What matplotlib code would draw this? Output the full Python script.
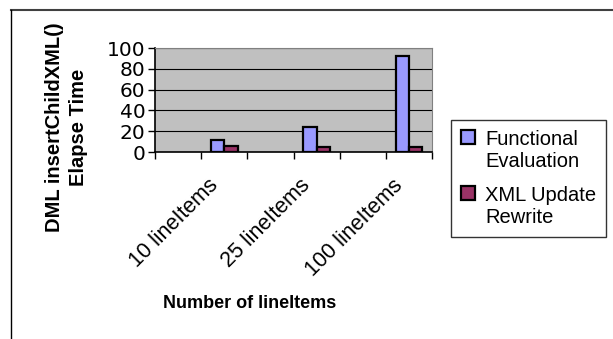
import matplotlib.pyplot as plt
import numpy as np
from matplotlib.lines import Line2D

plt.rcParams['font.family'] = ['Liberation Sans', 'DejaVu Sans']

# categories (blank ones are the empty spacer rows of the sheet)
categories = ['', '10 lineItems', '', '25 lineItems', '', '100 lineItems']
functional = [0, 12, 0, 24, 0, 92]   # Functional Evaluation
rewrite = [0, 6, 0, 5, 0, 5]         # XML Update Rewrite
yticks = [0, 20, 40, 60, 80, 100]

fig = plt.figure(figsize=(6.13, 3.39), dpi=100)
ax = fig.add_axes([0.2529, 0.5516, 0.4518, 0.3068])
ax.set_facecolor('#C0C0C0')

x = np.arange(len(categories))
w = 0.29
mask = [c != '' for c in categories]
xs = x[mask]
b1 = ax.bar(xs - w/2, np.array(functional)[mask], w, color='#9999FF', edgecolor='black', linewidth=1.6,
            label='Functional\nEvaluation', zorder=3)
b2 = ax.bar(xs + w/2, np.array(rewrite)[mask], w, color='#993366', edgecolor='black', linewidth=1.6,
            label='XML Update\nRewrite', zorder=3)

ax.set_xlim(-0.5, len(categories) - 0.5)
ax.set_ylim(0, 100)
ax.set_yticks(yticks)
ax.set_yticklabels([str(v) for v in yticks], family='DejaVu Sans', fontsize=14.5)
ax.yaxis.grid(True, color='black', linewidth=0.8)
ax.set_axisbelow(True)

# labels sit a little left of the category centre, like the rotated Excel labels
ax.set_xticks(x - 0.2)
ax.set_xticklabels(categories, rotation=45, ha='right', va='center', rotation_mode='anchor', fontsize=15.5)
ax.set_xticks(np.arange(-0.5, len(categories)), minor=True)
ax.tick_params(axis='x', which='major', length=0, pad=22)
ax.tick_params(axis='x', which='minor', length=5, width=1, color='black')
ax.tick_params(axis='y', length=5, width=1, pad=2)

for s in ['top', 'right']:
    ax.spines[s].set_color('#808080')
for s in ['left', 'bottom']:
    ax.spines[s].set_color('black')
    ax.spines[s].set_linewidth(1.2)

fig.text(0.108, 0.625, 'DML insertChildXML()\nElapse Time', rotation=90, ha='center', va='center',
         fontsize=14.5, fontweight='bold', linespacing=1.35)
fig.text(0.408, 0.105, 'Number of lineItems', ha='center', va='center', fontsize=13, fontweight='bold')

leg = fig.legend(handles=[b1, b2], loc='upper left', bbox_to_anchor=(451/613, 1 - 120/339),
                 fontsize=14.5, frameon=True, fancybox=False, edgecolor='black', handlelength=0.7,
                 handleheight=0.7, handletextpad=0.5, borderpad=0.5, labelspacing=0.75, borderaxespad=0)
leg.get_frame().set_linewidth(1.0)
# put the colour box next to the first line of each two-line label
for col in leg._legend_handle_box.get_children():
    for row in col.get_children():
        row.align = 'top'

# outer chart frame (top and left edges visible)
fig.add_artist(Line2D([11/613, 1], [1 - 10/339, 1 - 10/339], color='#404040', linewidth=1.5))
fig.add_artist(Line2D([11/613, 11/613], [0, 1 - 10/339], color='black', linewidth=1.0))

fig.savefig('out.png', dpi=100)
